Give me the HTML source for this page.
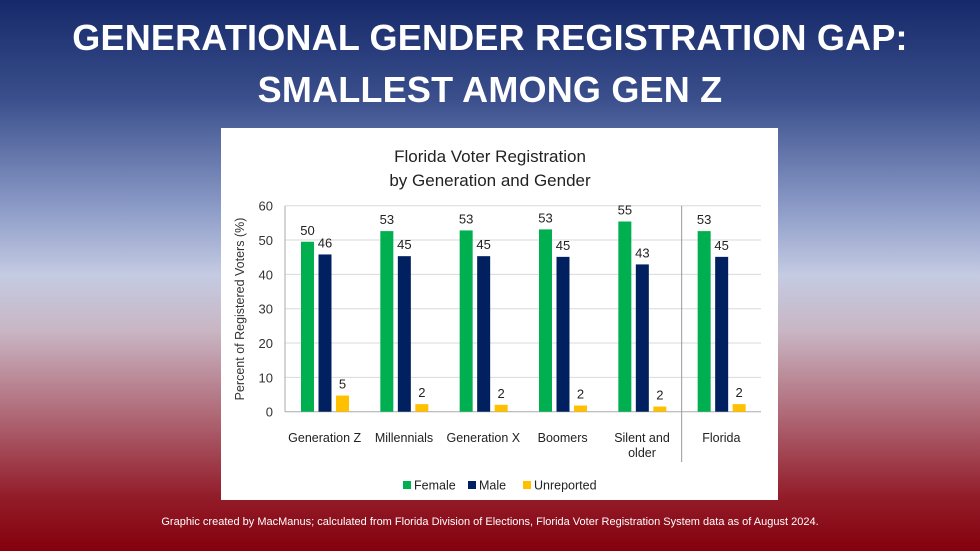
<!DOCTYPE html>
<html><head><meta charset="utf-8">
<style>
body{margin:0;width:980px;height:551px;overflow:hidden;font-family:"Liberation Sans",sans-serif;
background:linear-gradient(to bottom,#16296a 0%,#3a4f8c 18%,#8d9cc8 38%,#c4cbe2 50%,#c9b6c4 60%,#b06a78 75%,#931d2a 90%,#84000c 100%);position:relative}
#title{position:absolute;top:12px;left:0;width:980px;text-align:center;color:#fff;font-weight:bold;font-size:36px;line-height:52px;letter-spacing:0.2px}
#panel{position:absolute;left:221px;top:128px;width:557px;height:372px;background:#fff}
#foot{position:absolute;top:516px;left:0;width:980px;text-align:center;color:#fff;font-size:11px}
</style></head><body>
<div id="title">GENERATIONAL GENDER REGISTRATION GAP:<br>SMALLEST AMONG GEN Z</div>
<div id="panel"></div>
<svg id="chart" width="980" height="551" style="position:absolute;left:0;top:0" font-family="Liberation Sans, sans-serif"></svg>
<div id="foot">Graphic created by MacManus; calculated from Florida Division of Elections, Florida Voter Registration System data as of August 2024.</div>
<script>
const categories=[["Generation Z"],["Millennials"],["Generation X"],["Boomers"],["Silent and","older"],["Florida"]];
const female=[49.5,52.6,52.8,53.1,55.4,52.6];
const male=[45.8,45.3,45.3,45.1,42.9,45.1];
const unreported=[4.7,2.2,2.0,1.8,1.5,2.2];
const femaleLabels=["50","53","53","53","55","53"];
const maleLabels=["46","45","45","45","43","45"];
const unrepLabels=["5","2","2","2","2","2"];
const yTicks=[0,10,20,30,40,50,60];
const svg=document.getElementById('chart');const NS='http://www.w3.org/2000/svg';
const X0=285,X1=761,Y0=411.7,Y60=205.7;
const gw=(X1-X0)/categories.length;
const y=v=>Y0-(v/60)*(Y0-Y60);
function mk(t,a,txt){const e=document.createElementNS(NS,t);for(const k in a)e.setAttribute(k,a[k]);if(txt!=null)e.textContent=txt;svg.appendChild(e);return e;}
let e=mk('text',{x:490,y:162,'text-anchor':'middle','font-size':17,fill:'#222'},'Florida Voter Registration');

mk('text',{x:490,y:186,'text-anchor':'middle','font-size':17,fill:'#222'},'by Generation and Gender');
yTicks.forEach(t=>{
 let g=mk('line',{x1:X0,x2:X1,y1:y(t),y2:y(t),stroke:t===0?'#aaa':'#d9d9d9','stroke-width':1});
 
 let l=mk('text',{x:273,y:y(t)+5,'text-anchor':'end','font-size':13,fill:'#333'},String(t));
 
});
mk('line',{x1:X0,x2:X0,y1:Y60,y2:Y0,stroke:'#aaa'});
let sep=mk('line',{x1:X0+5*gw,x2:X0+5*gw,y1:Y60,y2:462,stroke:'#999'});

let yt=mk('text',{transform:'translate(244,309) rotate(-90)','text-anchor':'middle','font-size':12.5,fill:'#333'},'Percent of Registered Voters (%)');

const series=[[female,femaleLabels,'#00b050','female'],[male,maleLabels,'#002060','male'],[unreported,unrepLabels,'#ffc000','unreported']];
categories.forEach((c,i)=>{
 series.forEach((s,j)=>{
  const bx=X0+i*gw+16+j*17.5;const v=s[0][i];
  let r=mk('rect',{x:bx,y:y(v),width:13,height:Y0-y(v),fill:s[2]});
  
  let t=mk('text',{x:bx+6.5,y:y(v)-7,'text-anchor':'middle','font-size':13,fill:'#222'},s[1][i]);
  
 });
 c.forEach((ln,k)=>{
  let t=mk('text',{x:X0+i*gw+gw/2,y:442+k*15,'text-anchor':'middle','font-size':12.5,fill:'#222'},ln);
  
 });
});
const leg=[['Female','#00b050',403],['Male','#002060',468],['Unreported','#ffc000',523]];
leg.forEach(l=>{
 let r=mk('rect',{x:l[2],y:481,width:8,height:8,fill:l[1]});
 
 let t=mk('text',{x:l[2]+11,y:489.5,'font-size':12.5,fill:'#222'},l[0]);
 
});
</script>
</body></html>
